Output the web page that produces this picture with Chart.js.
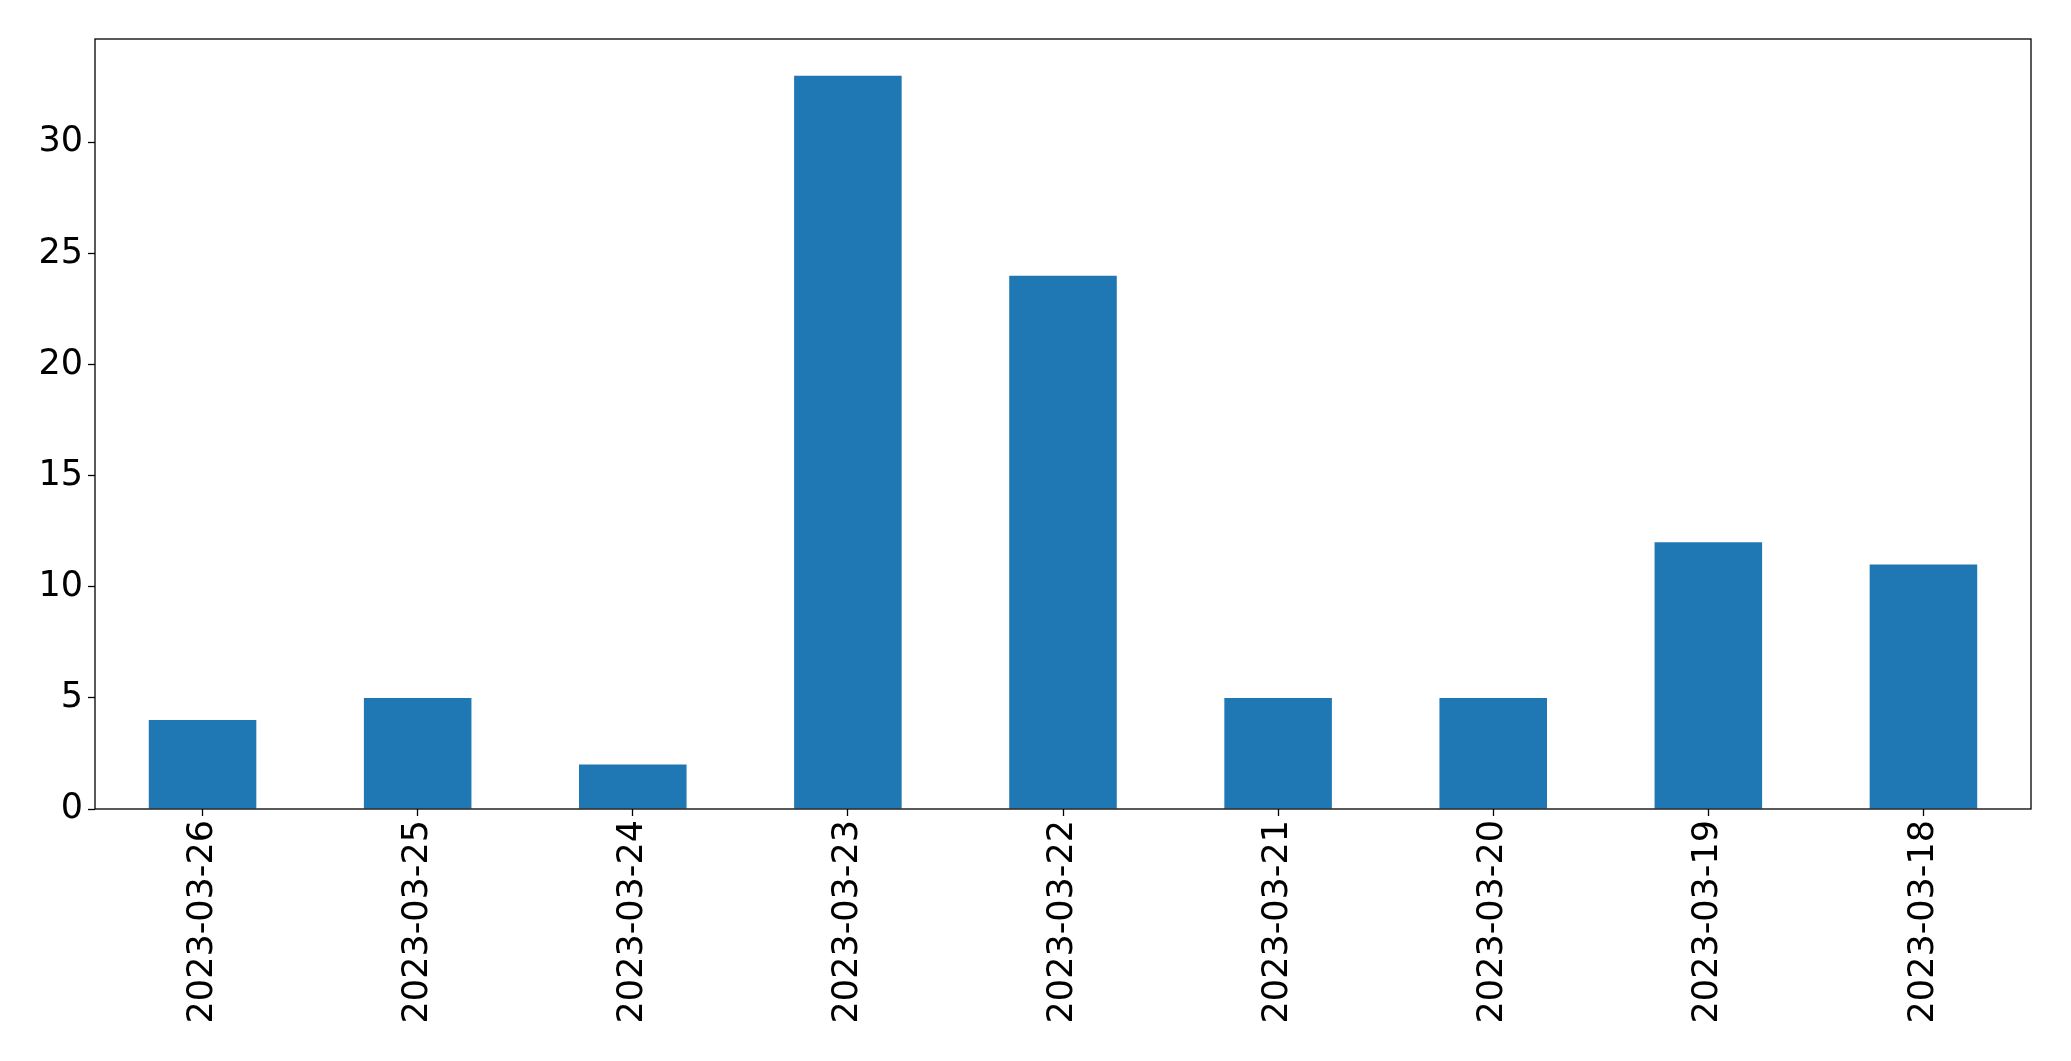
<!DOCTYPE html>
<html>
<head>
<meta charset="utf-8">
<script src="https://cdn.jsdelivr.net/npm/chart.js@4"></script>
<style>
  html, body { margin: 0; padding: 0; background: #fff; }
  #wrap { width: 2071px; height: 1061px; }
</style>
</head>
<body>
<div id="wrap"><canvas id="chart" width="2071" height="1061"></canvas></div>
<script>
    'use strict';

    var categories = ['2023-03-26', '2023-03-25', '2023-03-24', '2023-03-23', '2023-03-22',
                      '2023-03-21', '2023-03-20', '2023-03-19', '2023-03-18'];
    var counts = [4, 5, 2, 33, 24, 5, 5, 12, 11];
    var yTicks = [0, 5, 10, 15, 20, 25, 30];

    // draw the full box around the plot, like the matplotlib spines
    var frame = {
        id: 'frame',
        afterDraw: function (chart) {
            var a = chart.chartArea;
            var ctx = chart.ctx;
            ctx.save();
            ctx.strokeStyle = '#000';
            ctx.lineWidth = 1.3;
            ctx.strokeRect(a.left, a.top, a.right - a.left, a.bottom - a.top);
            ctx.restore();
        }
    };

    var font = { family: 'DejaVu Sans', size: 35 };

    new Chart(document.getElementById('chart').getContext('2d'), {
        type: 'bar',
        data: {
            labels: categories,
            datasets: [{
                data: counts,
                backgroundColor: '#1f77b4',
                barPercentage: 0.5,
                categoryPercentage: 1.0
            }]
        },
        options: {
            responsive: false,
            animation: false,
            layout: { padding: { top: 39, right: 40, left: 0, bottom: 0 } },
            plugins: { legend: { display: false }, tooltip: { enabled: false } },
            scales: {
                x: {
                    grid: { display: true, drawOnChartArea: false, offset: false,
                            tickLength: 7, tickColor: '#000', tickWidth: 1.3 },
                    border: { display: false },
                    ticks: { color: '#000', font: font, maxRotation: 90, minRotation: 90,
                             padding: 4, autoSkip: false },
                    afterFit: function (scale) { scale.height = 1061 - 809; }
                },
                y: {
                    min: 0,
                    max: 34.65,
                    grid: { display: true, drawOnChartArea: false,
                            tickLength: 7, tickColor: '#000', tickWidth: 1.3 },
                    border: { display: false },
                    ticks: { color: '#000', font: font, padding: 5 },
                    afterBuildTicks: function (scale) {
                        scale.ticks = yTicks.map(function (v) { return { value: v }; });
                    },
                    afterFit: function (scale) { scale.width = 95; }
                }
            }
        },
        plugins: [frame]
    });
</script>
</body>
</html>
